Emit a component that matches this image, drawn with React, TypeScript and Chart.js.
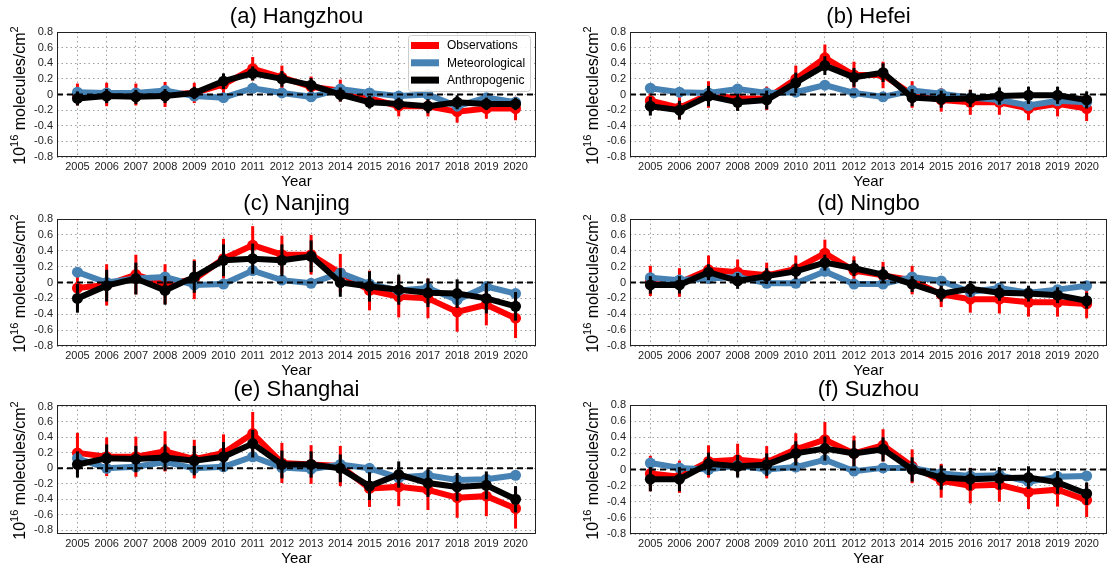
import React, { useEffect, useRef } from "react";
import { Chart, registerables } from "chart.js";

Chart.register(...registerables);

const years = [2005, 2006, 2007, 2008, 2009, 2010, 2011, 2012, 2013, 2014, 2015, 2016, 2017, 2018, 2019, 2020];
const yTickValues = [-0.8, -0.6, -0.4, -0.2, 0, 0.2, 0.4, 0.6, 0.8];
const seriesLabels = ["Observations", "Meteorological", "Anthropogenic"];
const seriesColors = ["#ff0000", "#4682b4", "#000000"];

// (a) Hangzhou
const hzObs = [0.0, 0.0, 0.0, 0.0, 0.02, 0.13, 0.33, 0.22, 0.1, 0.05, -0.05, -0.15, -0.15, -0.22, -0.18, -0.18];
const hzMet = [0.03, 0.02, 0.02, 0.05, -0.02, -0.04, 0.08, 0.02, -0.03, 0.07, 0.02, -0.02, 0.0, -0.15, -0.04, -0.1];
const hzAnth = [-0.05, -0.02, -0.03, -0.02, 0.02, 0.17, 0.27, 0.2, 0.12, 0.0, -0.1, -0.12, -0.15, -0.1, -0.12, -0.12];
const hzObsErr = [0.14, 0.15, 0.14, 0.16, 0.13, 0.13, 0.15, 0.15, 0.13, 0.14, 0.12, 0.13, 0.13, 0.14, 0.13, 0.15];
const hzAnthErr = [0.09, 0.09, 0.09, 0.09, 0.08, 0.1, 0.09, 0.1, 0.09, 0.09, 0.08, 0.08, 0.09, 0.09, 0.08, 0.08];

// (b) Hefei
const hfObs = [-0.08, -0.17, 0.0, -0.05, -0.05, 0.2, 0.47, 0.25, 0.25, 0.0, -0.07, -0.1, -0.1, -0.18, -0.12, -0.18];
const hfMet = [0.08, 0.03, 0.02, 0.07, 0.02, 0.03, 0.12, 0.02, -0.03, 0.05, 0.01, -0.04, -0.07, -0.14, -0.08, -0.1];
const hfAnth = [-0.15, -0.2, -0.02, -0.1, -0.07, 0.15, 0.37, 0.22, 0.28, -0.04, -0.06, -0.05, -0.02, -0.01, -0.01, -0.07];
const hfObsErr = [0.15, 0.15, 0.17, 0.15, 0.15, 0.17, 0.17, 0.17, 0.17, 0.17, 0.15, 0.16, 0.16, 0.15, 0.16, 0.16];
const hfAnthErr = [0.12, 0.12, 0.13, 0.11, 0.12, 0.13, 0.12, 0.12, 0.12, 0.11, 0.11, 0.11, 0.11, 0.11, 0.11, 0.11];

// (c) Nanjing
const njObs = [-0.07, -0.03, 0.1, -0.02, 0.04, 0.3, 0.47, 0.35, 0.35, 0.12, -0.1, -0.18, -0.2, -0.37, -0.28, -0.45];
const njMet = [0.13, 0.0, 0.05, 0.07, -0.03, -0.02, 0.15, 0.03, -0.01, 0.12, -0.02, -0.1, -0.07, -0.22, -0.05, -0.14];
const njAnth = [-0.2, -0.04, 0.05, -0.1, 0.07, 0.28, 0.3, 0.28, 0.33, 0.0, -0.05, -0.09, -0.13, -0.14, -0.2, -0.3];
const njObsErr = [0.26, 0.26, 0.25, 0.25, 0.25, 0.25, 0.24, 0.24, 0.25, 0.24, 0.25, 0.26, 0.25, 0.25, 0.26, 0.25];
const njAnthErr = [0.18, 0.2, 0.2, 0.18, 0.2, 0.2, 0.19, 0.2, 0.2, 0.18, 0.19, 0.19, 0.18, 0.18, 0.19, 0.18];

// (d) Ningbo
const nbObs = [0.02, 0.0, 0.16, 0.13, 0.09, 0.17, 0.37, 0.15, 0.09, 0.03, -0.15, -0.21, -0.21, -0.25, -0.25, -0.27];
const nbMet = [0.06, 0.03, 0.05, 0.07, -0.01, -0.01, 0.14, -0.02, -0.02, 0.07, 0.02, -0.12, -0.07, -0.13, -0.09, -0.04];
const nbAnth = [-0.03, -0.03, 0.13, 0.02, 0.08, 0.14, 0.25, 0.18, 0.1, -0.02, -0.14, -0.08, -0.13, -0.14, -0.16, -0.23];
const nbObsErr = [0.19, 0.18, 0.18, 0.16, 0.16, 0.17, 0.17, 0.18, 0.17, 0.18, 0.16, 0.17, 0.18, 0.18, 0.18, 0.18];
const nbAnthErr = [0.11, 0.11, 0.1, 0.1, 0.1, 0.1, 0.1, 0.1, 0.1, 0.1, 0.1, 0.1, 0.1, 0.1, 0.1, 0.1];

// (e) Shanghai
const shObs = [0.2, 0.15, 0.15, 0.22, 0.12, 0.2, 0.45, 0.07, 0.05, 0.03, -0.26, -0.24, -0.28, -0.38, -0.36, -0.52];
const shMet = [0.13, 0.0, 0.02, 0.08, 0.0, 0.02, 0.15, 0.01, -0.01, 0.05, 0.0, -0.12, -0.09, -0.15, -0.14, -0.09];
const shAnth = [0.05, 0.13, 0.12, 0.14, 0.1, 0.15, 0.32, 0.05, 0.05, 0.0, -0.23, -0.08, -0.19, -0.24, -0.22, -0.4];
const shObsErr = [0.26, 0.25, 0.26, 0.26, 0.25, 0.24, 0.28, 0.26, 0.25, 0.26, 0.24, 0.25, 0.26, 0.26, 0.26, 0.26];
const shAnthErr = [0.17, 0.18, 0.17, 0.17, 0.19, 0.19, 0.18, 0.18, 0.17, 0.18, 0.18, 0.17, 0.18, 0.18, 0.18, 0.17];

// (f) Suzhou
const szObs = [-0.05, -0.09, 0.1, 0.12, 0.09, 0.25, 0.37, 0.2, 0.3, 0.04, -0.14, -0.2, -0.19, -0.28, -0.25, -0.38];
const szMet = [0.08, 0.02, 0.0, 0.05, 0.0, 0.03, 0.12, -0.02, 0.02, 0.02, -0.05, -0.08, -0.07, -0.15, -0.09, -0.08];
const szAnth = [-0.12, -0.12, 0.07, 0.04, 0.06, 0.2, 0.26, 0.2, 0.25, 0.0, -0.1, -0.12, -0.11, -0.1, -0.16, -0.3];
const szObsErr = [0.22, 0.2, 0.2, 0.2, 0.2, 0.2, 0.22, 0.22, 0.2, 0.21, 0.21, 0.22, 0.21, 0.21, 0.21, 0.21];
const szAnthErr = [0.15, 0.15, 0.14, 0.14, 0.14, 0.15, 0.15, 0.16, 0.15, 0.15, 0.15, 0.14, 0.14, 0.14, 0.14, 0.14];

const panelTitles = ["(a) Hangzhou", "(b) Hefei", "(c) Nanjing", "(d) Ningbo", "(e) Shanghai", "(f) Suzhou"];
const yRanges = [[-0.8, 0.8], [-0.8, 0.8], [-0.8, 0.8], [-0.8, 0.8], [-0.85, 0.82], [-0.8, 0.8]];

const panels = [
  { title: panelTitles[0], obs: hzObs, met: hzMet, anth: hzAnth, obsErr: hzObsErr, anthErr: hzAnthErr, range: yRanges[0], legend: true },
  { title: panelTitles[1], obs: hfObs, met: hfMet, anth: hfAnth, obsErr: hfObsErr, anthErr: hfAnthErr, range: yRanges[1], legend: false },
  { title: panelTitles[2], obs: njObs, met: njMet, anth: njAnth, obsErr: njObsErr, anthErr: njAnthErr, range: yRanges[2], legend: false },
  { title: panelTitles[3], obs: nbObs, met: nbMet, anth: nbAnth, obsErr: nbObsErr, anthErr: nbAnthErr, range: yRanges[3], legend: false },
  { title: panelTitles[4], obs: shObs, met: shMet, anth: shAnth, obsErr: shObsErr, anthErr: shAnthErr, range: yRanges[4], legend: false },
  { title: panelTitles[5], obs: szObs, met: szMet, anth: szAnth, obsErr: szObsErr, anthErr: szAnthErr, range: yRanges[5], legend: false },
];

const FONT = "'Liberation Sans', Arial, Helvetica, sans-serif";

const colGeom = [
  { left: 0, width: 556, axisW: 57, padRight: 20 },
  { left: 556, width: 557, axisW: 74, padRight: 6 },
];
const rowGeom = [
  { top: 0, height: 188, padTop: 32, axisH: 31 },
  { top: 188, height: 188, padTop: 31, axisH: 30 },
  { top: 376, height: 196, padTop: 29, axisH: 38 },
];

const decoPlugin = {
  id: "deco",
  beforeDatasetDraw(chart: any, args: any) {
    const ds = chart.data.datasets[args.index];
    if (!ds.errors) return;
    const { ctx } = chart;
    const xs = chart.scales.x;
    const ys = chart.scales.y;
    ctx.save();
    ctx.beginPath();
    ctx.rect(chart.chartArea.left, chart.chartArea.top, chart.chartArea.right - chart.chartArea.left, chart.chartArea.bottom - chart.chartArea.top);
    ctx.clip();
    ctx.strokeStyle = ds.borderColor;
    ctx.lineWidth = 3;
    ds.data.forEach((p: any, i: number) => {
      const e = ds.errors[i];
      const x = xs.getPixelForValue(p.x);
      ctx.beginPath();
      ctx.moveTo(x, ys.getPixelForValue(p.y - e));
      ctx.lineTo(x, ys.getPixelForValue(p.y + e));
      ctx.stroke();
    });
    ctx.restore();
  },
  afterDatasetsDraw(chart: any) {
    const { ctx, chartArea } = chart;
    const y0 = chart.scales.y.getPixelForValue(0);
    ctx.save();
    ctx.strokeStyle = "#000";
    ctx.lineWidth = 2;
    ctx.setLineDash([6, 4]);
    ctx.beginPath();
    ctx.moveTo(chartArea.left, y0);
    ctx.lineTo(chartArea.right, y0);
    ctx.stroke();
    ctx.restore();
  },
  afterDraw(chart: any, _args: any, opts: any) {
    const { ctx, chartArea } = chart;
    const { left, right, top, bottom } = chartArea;
    ctx.save();
    ctx.strokeStyle = "#222";
    ctx.lineWidth = 1;
    ctx.setLineDash([]);
    ctx.strokeRect(left + 0.5, top + 0.5, right - left - 1, bottom - top - 1);
    ctx.fillStyle = "#000";
    ctx.font = `22px ${FONT}`;
    ctx.textAlign = "center";
    ctx.textBaseline = "middle";
    ctx.fillText(opts.title, (left + right) / 2, top - 15);
    ctx.font = `15px ${FONT}`;
    ctx.fillText("Year", (left + right) / 2, bottom + 25);
    const big = `16px ${FONT}`;
    const small = `11px ${FONT}`;
    const parts: [string, string, number][] = [
      ["10", big, 0],
      ["16", small, -6.5],
      [" molecules/cm", big, 0],
      ["2", small, -6.5],
    ];
    let total = 0;
    parts.forEach(([t, f]) => { ctx.font = f; total += ctx.measureText(t).width; });
    ctx.translate(left - 38, (top + bottom) / 2 + 1);
    ctx.rotate(-Math.PI / 2);
    ctx.textAlign = "left";
    ctx.textBaseline = "alphabetic";
    let x = -total / 2;
    parts.forEach(([t, f, dy]) => {
      ctx.font = f;
      ctx.fillText(t, x, 5.5 + dy);
      x += ctx.measureText(t).width;
    });
    ctx.restore();

    if (opts.legend) {
      const bw = 122, bh = 56;
      const bx = right - 6 - bw, by = top + 3;
      ctx.save();
      ctx.fillStyle = "rgba(255,255,255,0.85)";
      ctx.strokeStyle = "#cccccc";
      ctx.lineWidth = 1;
      ctx.beginPath();
      if (ctx.roundRect) ctx.roundRect(bx + 0.5, by + 0.5, bw, bh, 3); else ctx.rect(bx + 0.5, by + 0.5, bw, bh);
      ctx.fill();
      ctx.stroke();
      ctx.font = `12px ${FONT}`;
      ctx.textBaseline = "middle";
      ctx.textAlign = "left";
      chart.data.datasets.forEach((ds: any, i: number) => {
        const cy = by + 10.5 + i * 17.3;
        ctx.fillStyle = ds.borderColor;
        ctx.fillRect(bx + 3, cy - 3.5, 28, 7);
        ctx.fillStyle = "#000";
        ctx.fillText(ds.label, bx + 39, cy + 0.5);
      });
      ctx.restore();
    }
  },
};

function Panel({ idx }: { idx: number }) {
  const ref = useRef<HTMLCanvasElement | null>(null);
  const p = panels[idx];
  const col = colGeom[idx % 2];
  const row = rowGeom[Math.floor(idx / 2)];
  useEffect(() => {
    if (!ref.current) return;
    const series = [p.obs, p.met, p.anth];
    const errs = [p.obsErr, null, p.anthErr];
    const chart = new Chart(ref.current, {
      type: "line",
      data: {
        datasets: series.map((vals, si) => ({
          label: seriesLabels[si],
          data: years.map((yr, i) => ({ x: yr, y: vals[i] })),
          borderColor: seriesColors[si],
          backgroundColor: seriesColors[si],
          pointBackgroundColor: seriesColors[si],
          pointBorderWidth: 0,
          pointRadius: 5.5,
          borderWidth: 6,
          tension: 0,
          order: 3 - si,
          errors: errs[si],
        })) as any,
      },
      options: {
        animation: false,
        responsive: false,
        devicePixelRatio: 1,
        events: [],
        layout: { padding: { left: 0, right: col.padRight, top: row.padTop, bottom: 0 } },
        plugins: {
          legend: { display: false },
          tooltip: { enabled: false },
          title: { display: false },
          deco: { title: p.title, legend: p.legend },
        } as any,
        scales: {
          x: {
            type: "linear",
            min: 2004.3,
            max: 2020.7,
            afterFit: (s: any) => { s.height = row.axisH; },
            ticks: {
              stepSize: 1,
              includeBounds: false,
              autoSkip: false,
              maxRotation: 0,
              minRotation: 0,
              padding: 3,
              color: "#222",
              font: { family: FONT, size: 11 },
              callback: (v: any) => String(v),
            },
            grid: { color: "#a0a0a0", lineWidth: 1, drawTicks: false },
            border: { display: false, dash: [1.5, 3] },
          },
          y: {
            type: "linear",
            min: p.range[0],
            max: p.range[1],
            afterFit: (s: any) => { s.width = col.axisW; },
            afterBuildTicks: (s: any) => {
              s.ticks = yTickValues.map((v) => ({ value: v }));
            },
            ticks: {
              autoSkip: false,
              padding: 4,
              color: "#222",
              font: { family: FONT, size: 11 },
              callback: (v: any) => String(Math.round(v * 10) / 10),
            },
            grid: { color: "#a0a0a0", lineWidth: 1, drawTicks: false },
            border: { display: false, dash: [1.5, 3] },
          },
        },
      },
      plugins: [decoPlugin],
    });
    return () => chart.destroy();
  }, [idx]);
  return (
    <canvas
      ref={ref}
      width={col.width}
      height={row.height}
      style={{ position: "absolute", left: col.left, top: row.top, width: col.width, height: row.height }}
    />
  );
}

export default function App() {
  return (
    <div style={{ position: "absolute", left: 0, top: 0, width: 1113, height: 572, background: "#fff", overflow: "hidden" }}>
      {panels.map((_, i) => (
        <Panel key={i} idx={i} />
      ))}
    </div>
  );
}
